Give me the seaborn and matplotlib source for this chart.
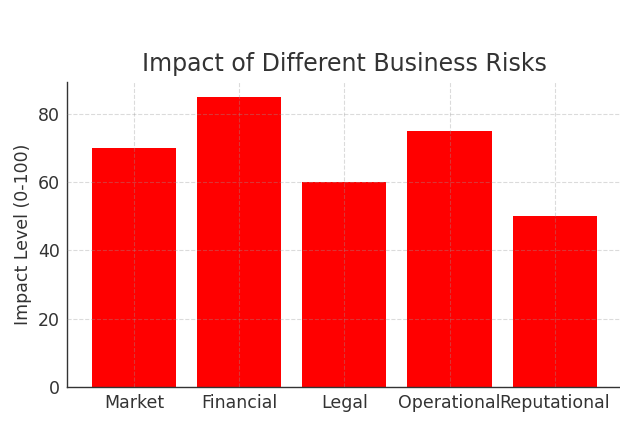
import pandas as pd
import seaborn as sns
import matplotlib.pyplot as plt

risks = ["Market", "Financial", "Legal", "Operational", "Reputational"]
impact = [70, 85, 60, 75, 50]

df = pd.DataFrame({"Risk": risks, "Impact": impact})

sns.set_style("white")
plt.rcParams["font.family"] = ["DejaVu Sans"]

fig = plt.figure(figsize=(6.2, 4.32), dpi=100)
ax = fig.add_axes([0.108, 0.104, 0.895, 0.706])

sns.barplot(data=df, x="Risk", y="Impact", color="red", saturation=1,
            width=0.8, linewidth=0, ax=ax)

ax.set_xlim(-0.64, 4.64)
ax.set_ylim(0, 89.25)
ax.set_yticks([0, 20, 40, 60, 80])
ax.set_title("Impact of Different Business Risks", fontsize=17, color="#333333", pad=8)
ax.set_xlabel("")
ax.set_ylabel("Impact Level (0-100)", fontsize=12.5, color="#333333")
ax.tick_params(axis="both", labelsize=12.5, colors="#333333", length=0, pad=5)

ax.set_axisbelow(False)
ax.grid(True, linestyle="--", color="#999999", alpha=0.35, linewidth=0.8)

for side in ["top", "right"]:
    ax.spines[side].set_visible(False)
for side in ["left", "bottom"]:
    ax.spines[side].set_color("#333333")
    ax.spines[side].set_linewidth(1.0)

fig.savefig("out.png", dpi=100)
